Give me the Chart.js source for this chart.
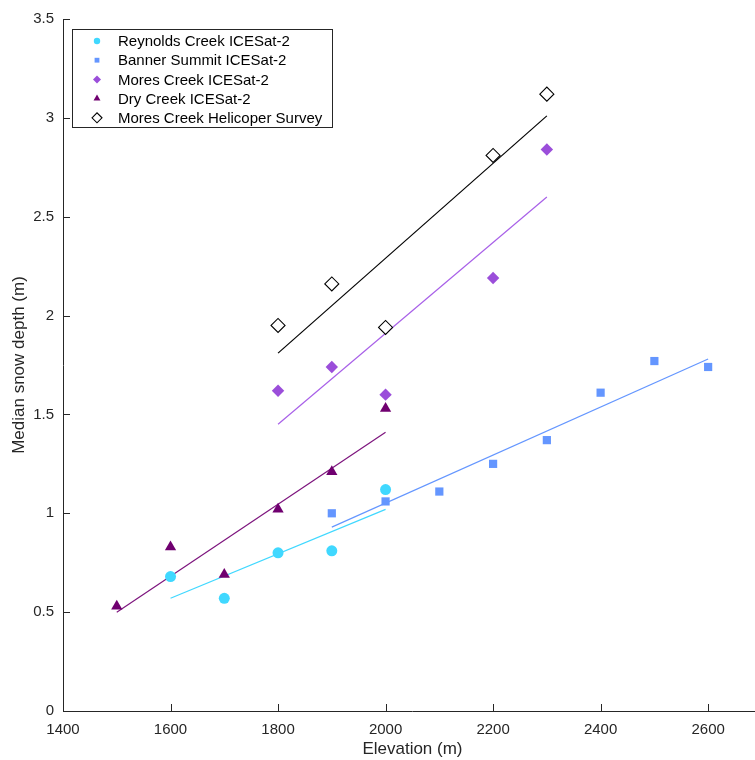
<!DOCTYPE html>
<html>
<head>
<meta charset="utf-8">
<script src="https://cdn.jsdelivr.net/npm/chart.js@4.4.1/dist/chart.umd.min.js"></script>
<style>
  html, body { margin: 0; padding: 0; background: #fff; overflow: hidden; width: 755px; height: 760px; }
  canvas { display: block; }
</style>
</head>
<body>
<canvas id="snowChart" width="770" height="760"></canvas>
<script>
// elevation bins (m) and median snow depth (m) per site
const elevReynolds = [1600, 1700, 1800, 1900, 2000];
const depthReynolds = [0.68, 0.57, 0.80, 0.81, 1.12];

const elevBanner = [1900, 2000, 2100, 2200, 2300, 2400, 2500, 2600];
const depthBanner = [1.00, 1.06, 1.11, 1.25, 1.37, 1.61, 1.77, 1.74];

const elevMores = [1800, 1900, 2000, 2200, 2300];
const depthMores = [1.62, 1.74, 1.60, 2.19, 2.84];

const elevDry = [1500, 1600, 1700, 1800, 1900, 2000];
const depthDry = [0.53, 0.83, 0.69, 1.02, 1.21, 1.53];

const elevHeli = [1800, 1900, 2000, 2200, 2300];
const depthHeli = [1.95, 2.16, 1.94, 2.81, 3.12];

// trend line end points
const fitReynoldsX = [1600, 2000];
const fitReynoldsY = [0.57, 1.02];
const fitBannerX = [1900, 2600];
const fitBannerY = [0.93, 1.78];
const fitMoresX = [1800, 2300];
const fitMoresY = [1.45, 2.60];
const fitDryX = [1500, 2000];
const fitDryY = [0.50, 1.41];
const fitHeliX = [1800, 2300];
const fitHeliY = [1.81, 3.01];

const xTicks = [1400, 1600, 1800, 2000, 2200, 2400, 2600];
const yTicks = [0, 0.5, 1, 1.5, 2, 2.5, 3, 3.5];

const toPoints = (xs, ys) => xs.map((x, i) => ({ x: x, y: ys[i] }));

const FONT = '"Liberation Sans", Arial, sans-serif';
const AXIS_COLOR = '#262626';

const cyan = 'rgb(64, 216, 255)';
const blue = 'rgb(100, 150, 255)';
const violet = 'rgb(155, 78, 218)';
const plum = 'rgb(112, 0, 112)';

function fitLine(xs, ys, color) {
  return {
    data: toPoints(xs, ys),
    showLine: true,
    borderColor: color,
    borderWidth: 1.2,
    pointRadius: 0,
    fill: false,
    isFit: true,
    order: 2
  };
}

const datasets = [
  fitLine(fitReynoldsX, fitReynoldsY, cyan),
  fitLine(fitBannerX, fitBannerY, blue),
  fitLine(fitMoresX, fitMoresY, 'rgb(168, 96, 232)'),
  fitLine(fitDryX, fitDryY, 'rgb(125, 20, 125)'),
  fitLine(fitHeliX, fitHeliY, '#000'),
  {
    label: 'Reynolds Creek ICESat-2',
    data: toPoints(elevReynolds, depthReynolds),
    pointStyle: 'circle', pointRadius: 5.5,
    backgroundColor: cyan, borderWidth: 0,
    legendRadius: 3.2, order: 1
  },
  {
    label: 'Banner Summit ICESat-2',
    data: toPoints(elevBanner, depthBanner),
    pointStyle: 'rect', pointRadius: 5.8,
    backgroundColor: blue, borderWidth: 0,
    legendRadius: 3.4, order: 1
  },
  {
    label: 'Mores Creek ICESat-2',
    data: toPoints(elevMores, depthMores),
    pointStyle: 'rectRot', pointRadius: 6.2,
    backgroundColor: violet, borderWidth: 0,
    legendRadius: 4, order: 1
  },
  {
    label: 'Dry Creek ICESat-2',
    data: toPoints(elevDry, depthDry),
    pointStyle: 'triangle', pointRadius: 6.5,
    backgroundColor: plum, borderWidth: 0,
    legendRadius: 4, order: 1
  },
  {
    label: 'Mores Creek Helicoper Survey',
    data: toPoints(elevHeli, depthHeli),
    pointStyle: 'rectRot', pointRadius: 7,
    backgroundColor: '#fff', borderColor: '#000', borderWidth: 1.1,
    legendRadius: 5, order: 0
  }
];

// inward ticks (MATLAB style) and the boxed legend in the upper left
const axesDecor = {
  id: 'axesDecor',
  afterDraw(chart) {
    const { ctx } = chart;
    const area = chart.chartArea;
    ctx.save();
    ctx.fillStyle = AXIS_COLOR;
    xTicks.forEach(v => {
      const px = Math.round(chart.scales.x.getPixelForValue(v));
      ctx.fillRect(px, Math.round(area.bottom) - 7, 1, 7);
    });
    yTicks.forEach(v => {
      const py = Math.round(chart.scales.y.getPixelForValue(v));
      ctx.fillRect(Math.round(area.left), py, 7, 1);
    });

    const items = chart.data.datasets.filter(d => !d.isFit);
    const x0 = 72.5, y0 = 29.5, w = 260, rowH = 19.2;
    const h = items.length * rowH + 2;
    ctx.fillStyle = '#fff';
    ctx.fillRect(x0, y0, w, h);
    ctx.strokeStyle = '#262626';
    ctx.lineWidth = 1;
    ctx.strokeRect(x0, y0, w, h);
    ctx.font = '15px ' + FONT;
    ctx.textBaseline = 'middle';
    ctx.textAlign = 'left';
    items.forEach((d, i) => {
      const cy = y0 + 11.5 + i * rowH;
      ctx.fillStyle = d.backgroundColor;
      ctx.strokeStyle = d.borderColor || d.backgroundColor;
      ctx.lineWidth = d.borderWidth || 0;
      Chart.helpers.drawPoint(ctx, {
        pointStyle: d.pointStyle,
        radius: d.legendRadius,
        borderWidth: d.borderWidth || 0,
        rotation: 0
      }, 97, cy);
      ctx.fillStyle = '#000';
      ctx.fillText(d.label, 118, cy + 1);
    });
    ctx.restore();
  }
};

new Chart(document.getElementById('snowChart'), {
  type: 'scatter',
  data: { datasets: datasets },
  options: {
    responsive: false,
    animation: false,
    layout: { padding: { top: 19, right: 0, left: 0, bottom: 0 } },
    plugins: {
      legend: { display: false },
      tooltip: { enabled: false }
    },
    scales: {
      x: {
        type: 'linear',
        min: 1400,
        max: 2700,
        afterFit(scale) { scale.height = 49; },
        afterBuildTicks(scale) { scale.ticks = xTicks.map(v => ({ value: v })); },
        grid: { display: false, drawTicks: false },
        border: { display: true, color: AXIS_COLOR, width: 1 },
        ticks: {
          color: AXIS_COLOR,
          padding: 10,
          maxRotation: 0,
          font: { family: FONT, size: 15 },
          callback: v => String(v)
        },
        title: {
          display: true,
          text: 'Elevation (m)',
          color: AXIS_COLOR,
          padding: { top: 2, bottom: 0 },
          font: { family: FONT, size: 17 }
        }
      },
      y: {
        type: 'linear',
        min: 0,
        max: 3.5,
        afterFit(scale) { scale.width = 63; },
        afterBuildTicks(scale) { scale.ticks = yTicks.map(v => ({ value: v })); },
        grid: { display: false, drawTicks: false },
        border: { display: true, color: AXIS_COLOR, width: 1 },
        ticks: {
          color: AXIS_COLOR,
          padding: 9,
          font: { family: FONT, size: 15 },
          callback: v => String(v)
        },
        title: {
          display: true,
          text: 'Median snow depth (m)',
          color: AXIS_COLOR,
          padding: { top: 9, bottom: 0 },
          font: { family: FONT, size: 17 }
        }
      }
    }
  },
  plugins: [axesDecor]
});
</script>
</body>
</html>
